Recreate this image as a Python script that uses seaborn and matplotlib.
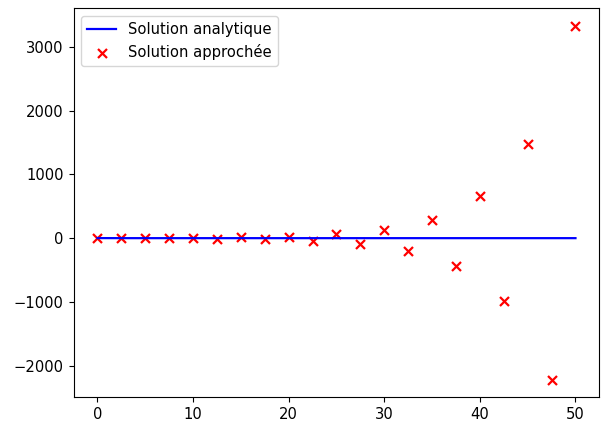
import matplotlib
matplotlib.use("Agg")
import matplotlib.pyplot as plt
import seaborn as sns
import numpy as np

# Data
x_points = [0, 2.5, 5, 7.5, 10, 12.5, 15, 17.5, 20, 22.5, 25,
            27.5, 30, 32.5, 35, 37.5, 40, 42.5, 45, 47.5, 50]
analytic = [1, 0.08, 0.007, 0.0006, 0.00005, 0.0, 0.0, 0.0, 0.0, 0.0, 0.0,
            0.0, 0.0, 0.0, 0.0, 0.0, 0.0, 0.0, 0.0, 0.0, 0.0]
approx = [1, -1.5, 2.25, -3.4, 5.1, -7.6, 11.4, -17, 25.6, -38, 58,
          -86, 130, -195, 292, -438, 657, -985, 1478, -2217, 3325]

label_line = "Solution analytique"
label_pts = "Solution approchée"

plt.rcParams["font.size"] = 10.6

fig, ax = plt.subplots(figsize=(6.03, 4.23), dpi=100)
fig.subplots_adjust(left=0.122, right=0.994, top=0.980, bottom=0.061)

sns.lineplot(x=x_points, y=analytic, color="blue", label=label_line, ax=ax,
             linewidth=1.6)
sns.scatterplot(x=x_points, y=approx, color="#ff0000", edgecolor="#ff0000",
                marker="x", s=42, linewidth=1.6, label=label_pts, ax=ax)

ax.legend(loc="upper left")
fig.savefig("out.png", dpi=100)
